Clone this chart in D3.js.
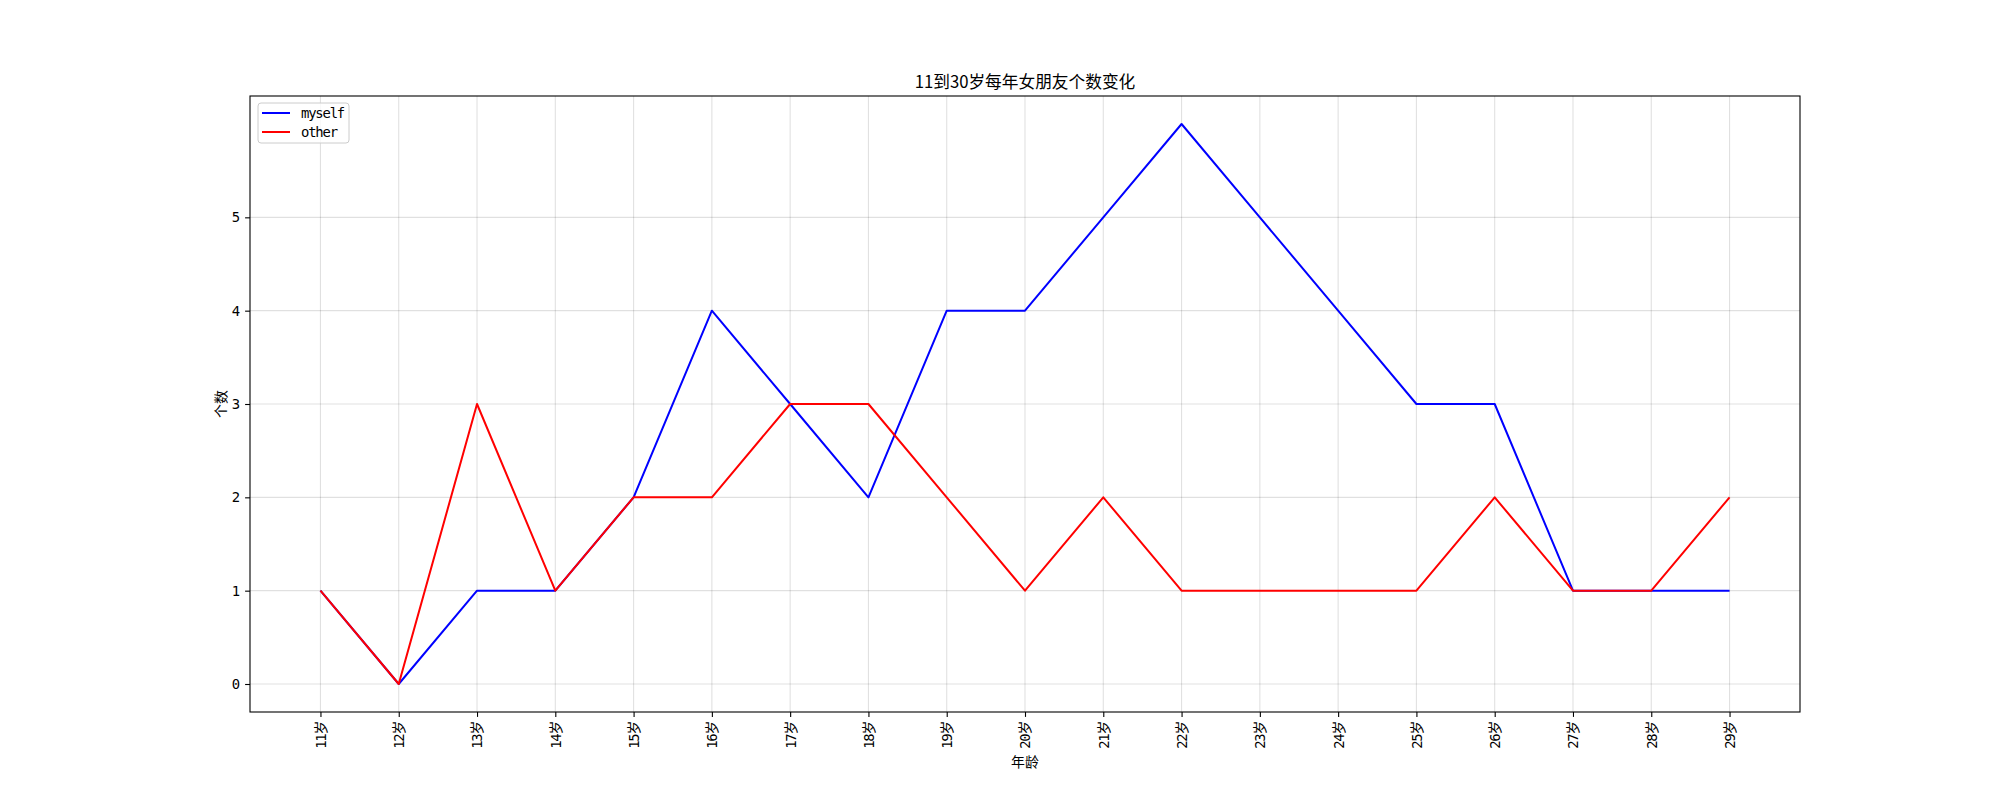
<!DOCTYPE html>
<html>
<head>
<meta charset="utf-8">
<script src="https://cdn.jsdelivr.net/npm/d3@7"></script>
<style>
  body { margin: 0; background: #fff; }
  text { font-family: "DejaVu Sans Mono", "Noto Sans CJK SC", sans-serif; fill: #000; }
  .cjk { font-family: "Noto Sans CJK SC", sans-serif; }
</style>
</head>
<body>
<div class="canvas"></div>
<script>
const ages = d3.range(11, 30).map(a => `${a}岁`)
const myself = [1, 0, 1, 1, 2, 4, 3, 2, 4, 4, 5, 6, 5, 4, 3, 3, 1, 1, 1]
const other = [1, 0, 3, 1, 2, 2, 3, 3, 2, 1, 2, 1, 1, 1, 1, 2, 1, 1, 2]
const yTicks = [0, 1, 2, 3, 4, 5]
const series = [
  { name: 'myself', values: myself, color: 'blue' },
  { name: 'other', values: other, color: 'red' }
]

const dims = { width: 2000, height: 800 }
const plot = { left: 250, right: 1800, top: 96, bottom: 712 }

const svg = d3.select('.canvas')
  .append('svg')
  .attr('width', dims.width)
  .attr('height', dims.height)

// scales (matplotlib style 5% margins)
const x = d3.scaleLinear()
  .domain([-0.9, ages.length - 1 + 0.9])
  .range([plot.left, plot.right])

const y = d3.scaleLinear()
  .domain([-0.3, 6.3])
  .range([plot.bottom, plot.top])

// grid
const grid = svg.append('g')
grid.selectAll('.gx')
  .data(ages)
  .enter().append('line')
    .attr('x1', (d, i) => x(i)).attr('x2', (d, i) => x(i))
    .attr('y1', plot.top).attr('y2', plot.bottom)
    .attr('stroke', '#000').attr('stroke-opacity', 0.12).attr('stroke-width', 1.1)
grid.selectAll('.gy')
  .data(yTicks)
  .enter().append('line')
    .attr('y1', d => y(d)).attr('y2', d => y(d))
    .attr('x1', plot.left).attr('x2', plot.right)
    .attr('stroke', '#000').attr('stroke-opacity', 0.12).attr('stroke-width', 1.1)

// lines
const line = d3.line()
  .x((d, i) => x(i))
  .y(d => y(d))

svg.selectAll('.line')
  .data(series)
  .enter().append('path')
    .attr('fill', 'none')
    .attr('stroke', d => d.color)
    .attr('stroke-width', 2)
    .attr('stroke-linejoin', 'round')
    .attr('d', d => line(d.values))

// frame
svg.append('rect')
  .attr('x', plot.left).attr('y', plot.top)
  .attr('width', plot.right - plot.left).attr('height', plot.bottom - plot.top)
  .attr('fill', 'none').attr('stroke', '#000').attr('stroke-width', 1.1)

// x axis
const xAxis = svg.append('g')
  .attr('transform', `translate(0, ${plot.bottom})`)
  .call(d3.axisBottom(x)
    .tickValues(d3.range(ages.length))
    .tickFormat(i => ages[i])
    .tickSizeOuter(0)
    .tickSize(4.9)
    .tickPadding(4.9))
xAxis.select('.domain').remove()
xAxis.selectAll('.tick line').attr('stroke', '#000').attr('stroke-width', 1.1)
xAxis.selectAll('.tick text')
  .attr('fill', '#000')
  .style('font-size', '13.9px')
  .style('letter-spacing', '-1.2px')
  .attr('text-anchor', 'end')
  .attr('dy', '0.35em')
  .attr('transform', 'rotate(-90)')
  .attr('x', -9.8)
  .attr('y', 0)

// y axis
const yAxis = svg.append('g')
  .attr('transform', `translate(${plot.left}, 0)`)
  .call(d3.axisLeft(y)
    .tickValues(yTicks)
    .tickFormat(d3.format('d'))
    .tickSizeOuter(0)
    .tickSize(4.9)
    .tickPadding(4.9))
yAxis.select('.domain').remove()
yAxis.selectAll('.tick line').attr('stroke', '#000').attr('stroke-width', 1.1)
yAxis.selectAll('.tick text').attr('fill', '#000').style('font-size', '13.9px')

// title and labels
svg.append('text')
  .attr('class', 'cjk')
  .attr('x', (plot.left + plot.right) / 2)
  .attr('y', 88)
  .attr('text-anchor', 'middle')
  .style('font-size', '16.7px')
  .text('11到30岁每年女朋友个数变化')

svg.append('text')
  .attr('class', 'cjk')
  .attr('x', (plot.left + plot.right) / 2)
  .attr('y', 767)
  .attr('text-anchor', 'middle')
  .style('font-size', '13.9px')
  .text('年龄')

svg.append('text')
  .attr('class', 'cjk')
  .attr('transform', `translate(226, ${(plot.top + plot.bottom) / 2}) rotate(-90)`)
  .attr('text-anchor', 'middle')
  .style('font-size', '13.9px')
  .text('个数')

// legend
const legend = svg.append('g')
  .attr('transform', 'translate(258, 103)')
legend.append('rect')
  .attr('width', 91).attr('height', 40).attr('rx', 3)
  .attr('fill', '#fff').attr('fill-opacity', 0.8)
  .attr('stroke', '#ccc')
const items = legend.selectAll('.item')
  .data(series)
  .enter().append('g')
    .attr('transform', (d, i) => `translate(0, ${10 + i * 19})`)
items.append('line')
  .attr('x1', 4).attr('x2', 32)
  .attr('stroke', d => d.color).attr('stroke-width', 2)
items.append('text')
  .attr('x', 43).attr('dy', '0.35em')
  .style('font-size', '13.9px')
  .style('letter-spacing', '-1.2px')
  .text(d => d.name)
</script>
</body>
</html>
